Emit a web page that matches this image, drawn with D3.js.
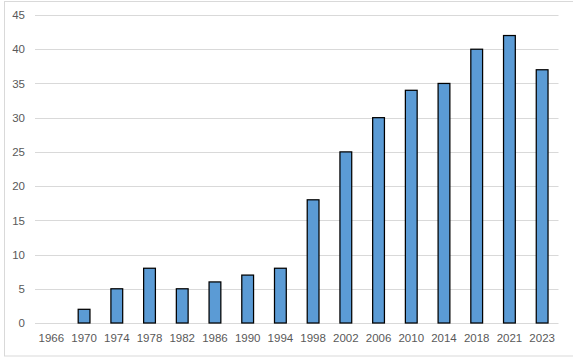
<!DOCTYPE html>
<html><head><meta charset="utf-8">
<script src="https://cdn.jsdelivr.net/npm/d3@7"></script>
<style>html,body{margin:0;padding:0;background:#fff;} svg{display:block;font-family:"Open Sans","Liberation Sans",Arial,sans-serif;}</style>
</head><body>
<svg id="chart" width="573" height="359"></svg>
<script>
const categories = ["1966","1970","1974","1978","1982","1986","1990","1994","1998","2002","2006","2010","2014","2018","2021","2023"];
const values = [0,2,5,8,5,6,7,8,18,25,30,34,35,40,42,37];
const yTicks = [0,5,10,15,20,25,30,35,40,45];

const svg = d3.select("#chart");
const W = 573, H = 359;
const m = {left:35, right:15, top:15, bottom:36};
const x = d3.scaleBand().domain(categories).range([m.left, 558.5]).paddingInner(0.64).paddingOuter(0.32);
const y = d3.scaleLinear().domain([0,45]).range([323, 15]);

svg.append("rect").attr("x",4.5).attr("y",1.5).attr("width",W+10).attr("height",354.5)
  .attr("fill","#fff").attr("stroke","#d9d9d9").attr("stroke-width",1);

svg.append("g").selectAll("line").data(yTicks).join("line")
  .attr("x1",m.left).attr("x2",558.5)
  .attr("y1",d=>Math.round(y(d))+0.5).attr("y2",d=>Math.round(y(d))+0.5)
  .attr("stroke","#d9d9d9").attr("stroke-width",1);

const yAxis = d3.axisLeft(y).tickValues(yTicks).tickSize(0).tickPadding(0);
const gy = svg.append("g").attr("transform","translate(25,0)").call(yAxis);
gy.select(".domain").remove();
gy.selectAll("text").attr("fill","#595959").style("font-size","11.5px");

svg.append("g").selectAll("rect").data(values).join("rect")
  .attr("x",(d,i)=>x(categories[i]))
  .attr("width",x.bandwidth())
  .attr("y",d=>y(d))
  .attr("height",d=>y(0)-y(d))
  .attr("fill","#5b9bd5")
  .attr("stroke","#000").attr("stroke-width",1.25)
  .attr("display",d=>d>0?null:"none");

const xAxis = d3.axisBottom(x).tickSize(0).tickPadding(0);
const gx = svg.append("g").attr("transform","translate(0,334)").call(xAxis);
gx.select(".domain").remove();
gx.selectAll("text").attr("fill","#595959").style("font-size","11.5px");
</script>
</body></html>
